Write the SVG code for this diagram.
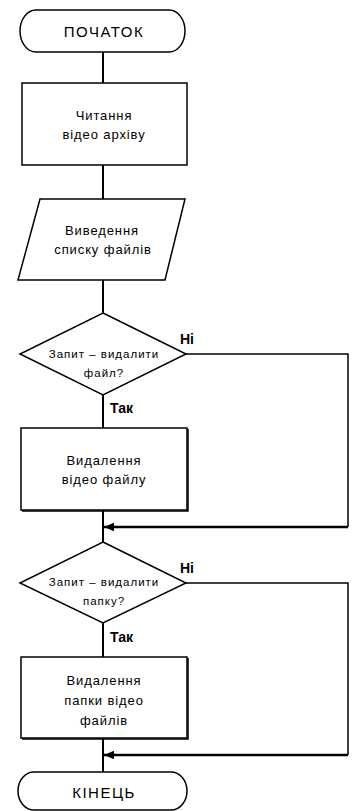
<svg xmlns="http://www.w3.org/2000/svg" width="356" height="811" viewBox="0 0 356 811">
<style>
.s{fill:#fff;stroke:#000;stroke-width:1.5}
.c{fill:none;stroke:#000;stroke-width:2}
.t{font-family:"Liberation Sans",Arial,sans-serif;font-size:13px;letter-spacing:0.9px;fill:#000;text-anchor:middle}
.d{font-family:"Liberation Sans",Arial,sans-serif;font-size:11.5px;letter-spacing:1px;fill:#000;text-anchor:middle}
.e{font-family:"Liberation Sans",Arial,sans-serif;font-size:15px;letter-spacing:1.5px;fill:#000;text-anchor:middle}
.l{font-family:"Liberation Sans",Arial,sans-serif;font-size:14px;font-weight:bold;fill:#000}
.sh{fill:none;stroke:#000;stroke-width:1.5}
</style>
<defs>
<marker id="ah" viewBox="0 0 10 10" refX="10" refY="5" markerWidth="4" markerHeight="3.4" orient="auto" markerUnits="strokeWidth" preserveAspectRatio="none">
<path d="M0,0 L10,5 L0,10 Z" fill="#000"/>
</marker>
</defs>
<rect width="356" height="811" fill="#fff"/>
<g id="connectors">
<path class="c" d="M103,52 V83"/>
<path class="c" d="M103,165 V199"/>
<path class="c" d="M103,280 V313"/>
<path class="c" d="M103,395 V428"/>
<path class="c" d="M103,510 V542"/>
<path class="c" d="M103,623 V657"/>
<path class="c" d="M103,738 V772"/>
<path class="c" style="stroke-width:1.5" d="M186,354 H348 V527"/>
<path class="c" style="stroke-width:2.5" d="M348,527 H104" marker-end="url(#ah)"/>
<path class="c" style="stroke-width:1.5" d="M186,583 H348 V755"/>
<path class="c" style="stroke-width:2.5" d="M348,755 H104" marker-end="url(#ah)"/>
<text class="l" x="180" y="344">Ні</text>
<text class="l" x="110" y="413">Так</text>
<text class="l" x="180" y="573">Ні</text>
<text class="l" x="110" y="642">Так</text>
</g>
<g id="start">
<path class="s" d="M36,10 H169 A16,21 0 0 1 169,52 H36 A16,21 0 0 1 36,10 Z"/>
<text class="e" x="104" y="37">ПОЧАТОК</text>
</g>
<g id="read">
<rect class="s" x="22" y="83" width="165" height="82"/>
<text class="t" x="104" y="120">Читання</text>
<text class="t" x="104" y="139">відео архіву</text>
</g>
<g id="output">
<path class="s" d="M40,199 H185 L165,280 H18 Z"/>
<text class="t" x="102" y="235">Виведення</text>
<text class="t" x="103" y="254">списку файлів</text>
</g>
<g id="q1">
<path class="s" d="M103,313 L186,354 L103,395 L20,354 Z"/>
<text class="d" x="104" y="358">Запит – видалити</text>
<text class="d" x="104" y="377">файл?</text>
</g>
<g id="delfile">
<rect class="s" x="21" y="428" width="166" height="82"/>
<path class="sh" d="M188,429 V511 H22"/>
<text class="t" x="104" y="465">Видалення</text>
<text class="t" x="104" y="484">відео файлу</text>
</g>
<g id="q2">
<path class="s" d="M103,542 L186,583 L103,623 L20,583 Z"/>
<text class="d" x="104" y="586">Запит – видалити</text>
<text class="d" x="104" y="605">папку?</text>
</g>
<g id="delfolder">
<rect class="s" x="21" y="657" width="166" height="81"/>
<path class="sh" d="M188,658 V739 H22"/>
<text class="t" x="104" y="685">Видалення</text>
<text class="t" x="104" y="705">папки відео</text>
<text class="t" x="104" y="725">файлів</text>
</g>
<g id="end">
<path class="s" d="M34,772 H171 A16,19 0 0 1 171,810 H34 A16,19 0 0 1 34,772 Z"/>
<text class="e" x="104" y="798">КІНЕЦЬ</text>
</g>
</svg>
